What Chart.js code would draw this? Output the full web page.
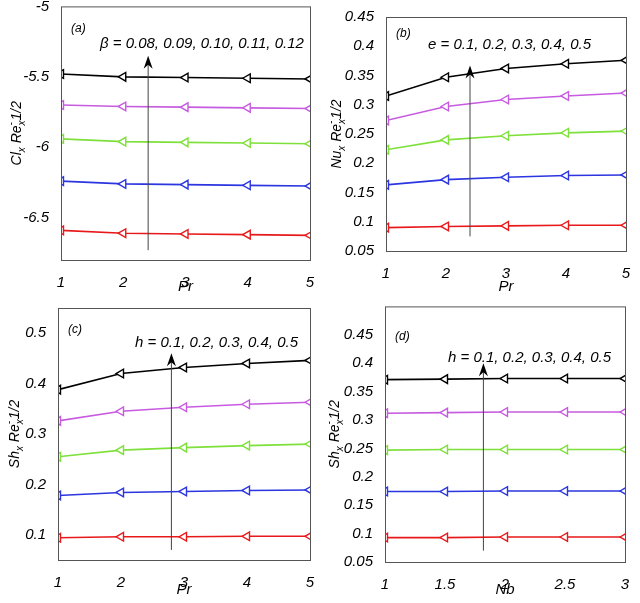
<!DOCTYPE html>
<html><head><meta charset="utf-8">
<script src="https://cdn.jsdelivr.net/npm/chart.js@4/dist/chart.umd.min.js"></script>
<style>body{margin:0;background:#fff;width:640px;height:603px;position:relative;overflow:hidden}
canvas{position:absolute}</style></head><body>
<canvas id="ca" style="left:0;top:0"></canvas>
<canvas id="cb" style="left:320px;top:0"></canvas>
<canvas id="cc" style="left:0;top:300px"></canvas>
<canvas id="cd" style="left:320px;top:300px"></canvas>
<script>
const colors=['#e8191b','#2b35e0','#7ee03a','#c75be0','#000000'];
const prX=[1,2,3,4,5];
const nbX=[1,1.5,2,2.5,3];
const aSeries=[[-6.59,-6.61,-6.615,-6.62,-6.625],[-6.24,-6.26,-6.265,-6.27,-6.275],[-5.94,-5.96,-5.965,-5.97,-5.975],[-5.70,-5.71,-5.715,-5.72,-5.725],[-5.48,-5.50,-5.505,-5.51,-5.515]];
const bSeries=[[0.090,0.092,0.093,0.094,0.094],[0.163,0.172,0.176,0.179,0.180],[0.223,0.240,0.247,0.252,0.255],[0.273,0.297,0.309,0.315,0.320],[0.315,0.347,0.362,0.370,0.376]];
const cSeries=[[0.094,0.096,0.096,0.097,0.097],[0.178,0.184,0.186,0.188,0.189],[0.255,0.268,0.273,0.277,0.280],[0.326,0.345,0.353,0.359,0.363],[0.388,0.420,0.432,0.440,0.446]];
const dSeries=[[0.093,0.093,0.094,0.094,0.094],[0.174,0.174,0.175,0.175,0.175],[0.247,0.248,0.248,0.248,0.248],[0.312,0.313,0.314,0.314,0.314],[0.371,0.372,0.373,0.373,0.373]];
const aTicks=[-6.5,-6,-5.5,-5];
const bTicks=[0.05,0.1,0.15,0.2,0.25,0.3,0.35,0.4,0.45];
const cTicks=[0.1,0.2,0.3,0.4,0.5];
const dTicks=[0.05,0.1,0.15,0.2,0.25,0.3,0.35,0.4,0.45];

const F='"Liberation Sans", Arial, sans-serif';
const fmt=v=>String(+Number(v).toFixed(3));
const annot={
 id:'annot',
 afterDraw(ch){
  const o=ch.options.plugins.annot, ctx=ch.ctx, a=ch.chartArea, x=ch.scales.x, y=ch.scales.y;
  ctx.save();
  ctx.strokeStyle='#555';ctx.lineWidth=1;ctx.strokeRect(a.left+0.5,a.top+0.5,a.right-a.left,a.bottom-a.top);
  const ax=x.getPixelForValue(o.arrowX), y0=y.getPixelForValue(o.y0), y1=y.getPixelForValue(o.y1);
  ctx.strokeStyle='#444';ctx.beginPath();ctx.moveTo(ax,y0);ctx.lineTo(ax,y1+6);ctx.stroke();
  ctx.fillStyle='#000';ctx.beginPath();ctx.moveTo(ax,y1);ctx.lineTo(ax-4.5,y1+13);ctx.lineTo(ax,y1+9);ctx.lineTo(ax+4.5,y1+13);ctx.closePath();ctx.fill();
  ctx.fillStyle='#000';ctx.textBaseline='middle';ctx.textAlign='left';
  ctx.font='italic 15px '+F;ctx.fillText(o.text,o.tx,o.ty);
  ctx.font='italic 12px '+F;ctx.fillText(o.label,a.left+10,a.top+o.ly);
  ctx.translate(o.tX,(a.top+a.bottom)/2);ctx.rotate(-Math.PI/2);
  const parts=[[o.yname,'n'],['x','sub'],[' Re','n'],['x','sub'],['-','sup'],['1/2','n']];
  let w=0;const meas=p=>{ctx.font=(p[1]=='n'?'italic 14px ':'italic 10px ')+F;return ctx.measureText(p[0]).width;};
  parts.forEach(p=>{if(p[1]!='sup')w+=meas(p);});
  let cx=-w/2,last=0;
  parts.forEach(p=>{const mw=meas(p);let dy=0,px=cx;
   if(p[1]=='sub')dy=5; if(p[1]=='sup'){dy=-6;px=cx-last;}
   ctx.fillText(p[0],px,dy);
   if(p[1]!='sup'){cx+=mw;last=mw;}});
  ctx.restore();
 }
};
function make(id,xs,series,ticks,ymin,ymax,left,right,top,bottom,xTitle,ann){
 const W=320,H=id=='ca'||id=='cb'?300:303;
 const el=document.getElementById(id);el.width=W;el.height=H;
 new Chart(el,{type:'line',
  data:{labels:xs,datasets:series.map((s,i)=>({data:s.map((v,j)=>({x:xs[j],y:v})),borderColor:colors[i],backgroundColor:'#fff',borderWidth:1.6,pointStyle:'triangle',rotation:-90,pointRadius:5,pointBorderWidth:1.4}))},
  options:{responsive:false,animation:false,
   layout:{padding:{left:0,right:right,top:top,bottom:0}},
   plugins:{legend:{display:false},tooltip:{enabled:false},annot:ann},
   scales:{
    x:{type:'linear',min:xs[0],max:xs[xs.length-1],afterBuildTicks(s){s.ticks=xs.map(v=>({value:v}));},
     grid:{display:false},border:{display:false},
     ticks:{color:'#000',font:{family:F,size:15,style:'italic'},padding:6,maxRotation:0,callback:fmt},
     title:{display:true,text:xTitle,color:'#000',font:{family:F,size:15,style:'italic'},padding:{top:0}},
     afterFit(s){s.height=H-bottom;s.paddingLeft=0;s.paddingRight=0;}},
    y:{min:ymin,max:ymax,afterBuildTicks(s){s.ticks=ticks.map(v=>({value:v}));},
     grid:{display:false},border:{display:false},
     ticks:{color:'#000',font:{family:F,size:15,style:'italic'},padding:4,callback:fmt},
     afterFit(s){s.width=left;s.paddingTop=0;s.paddingBottom=0;}}
   }},
  plugins:[annot]});
}
make('ca',prX,aSeries,aTicks,-6.8,-5,61,10,5,260,'Pr',{label:'(a)',ly:22,text:'β = 0.08, 0.09, 0.10, 0.11, 0.12',tx:100,ty:44,arrowX:2.4,y0:-6.73,y1:-5.35,yname:'Cl',tX:17});
make('cb',prX,bSeries,bTicks,0.05,0.45,66,14,17,251,'Pr',{label:'(b)',ly:17,text:'e = 0.1, 0.2, 0.3, 0.4, 0.5',tx:108,ty:45,arrowX:2.4,y0:0.075,y1:0.367,yname:'Nu',tX:17});
make('cc',prX,cSeries,cTicks,0.05,0.55,58,10,8,260,'Pr',{label:'(c)',ly:22,text:'h = 0.1, 0.2, 0.3, 0.4, 0.5',tx:135,ty:43,arrowX:2.8,y0:0.07,y1:0.46,yname:'Sh',tX:15});
make('cd',nbX,dSeries,dTicks,0.05,0.5,65,15,5,262,'Nb',{label:'(d)',ly:30,text:'h = 0.1, 0.2, 0.3, 0.4, 0.5',tx:128,ty:58,arrowX:1.82,y0:0.07,y1:0.40,yname:'Sh',tX:15});
</script></body></html>
